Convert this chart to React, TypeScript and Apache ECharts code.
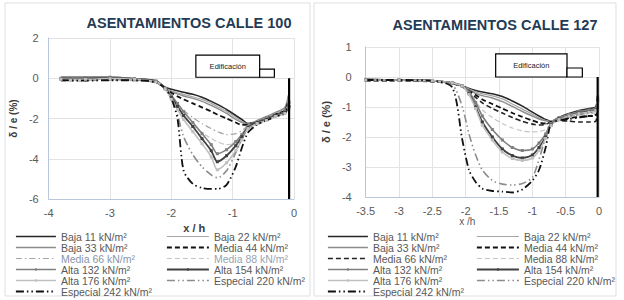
import React, { useEffect, useRef } from "react";
import * as echarts from "echarts";

const FONT = '"Liberation Sans", Arial, sans-serif';

// ---------- names ----------
const SERIES_NAMES = [
  "Baja 11 kN/m²",
  "Baja 22 kN/m²",
  "Baja 33 kN/m²",
  "Media 44 kN/m²",
  "Media 66 kN/m²",
  "Media 88 kN/m²",
  "Alta 132 kN/m²",
  "Alta 154 kN/m²",
  "Alta 176 kN/m²",
  "Especial 220 kN/m²",
  "Especial 242 kN/m²",
];
const LEGEND_COL1 = ["Baja 11 kN/m²", "Baja 33 kN/m²", "Media 66 kN/m²", "Alta 132 kN/m²", "Alta 176 kN/m²", "Especial 242 kN/m²"];
const LEGEND_COL2 = ["Baja 22 kN/m²", "Media 44 kN/m²", "Media 88 kN/m²", "Alta 154 kN/m²", "Especial 220 kN/m²"];

// ---------- Calle 100 (left) ----------
const X_100 = [-3.8, -3.4, -3.0, -2.6, -2.25, -2.1, -2.0, -1.9, -1.8, -1.65, -1.5, -1.35, -1.25, -1.1, -0.95, -0.85, -0.75, -0.6, -0.45, -0.3, -0.15, -0.08];
const baja11_100 = [0.05, 0.05, 0.05, -0.02, -0.12, -0.45, -0.55, -0.62, -0.7, -0.8, -0.95, -1.15, -1.3, -1.55, -1.85, -2.05, -2.25, -2.15, -2.0, -1.8, -1.6, -0.75];
const baja22_100 = [0.0, 0.02, 0.05, -0.02, -0.15, -0.5, -0.62, -0.72, -0.8, -0.92, -1.05, -1.25, -1.4, -1.65, -1.95, -2.15, -2.28, -2.15, -1.95, -1.75, -1.5, -0.9];
const baja33_100 = [-0.05, -0.02, 0.0, -0.05, -0.15, -0.52, -0.66, -0.78, -0.88, -1.0, -1.15, -1.35, -1.5, -1.75, -2.05, -2.2, -2.3, -2.1, -1.9, -1.7, -1.45, -0.7];
const media44_100 = [-0.1, -0.1, -0.08, -0.1, -0.2, -0.5, -0.72, -0.9, -1.05, -1.25, -1.45, -1.65, -1.8, -2.0, -2.2, -2.32, -2.3, -2.2, -2.0, -1.8, -1.6, -1.0];
const media66_100 = [-0.1, -0.1, -0.1, -0.12, -0.2, -0.5, -0.9, -1.3, -1.6, -1.95, -2.25, -2.5, -2.65, -2.8, -2.75, -2.6, -2.35, -2.2, -2.05, -1.85, -1.65, -1.1];
const media88_100 = [-0.12, -0.1, -0.1, -0.12, -0.2, -0.5, -1.0, -1.5, -1.9, -2.35, -2.7, -3.0, -3.15, -3.3, -3.2, -2.9, -2.45, -2.25, -2.05, -1.9, -1.7, -1.2];
const alta132_100 = [0.0, 0.02, 0.05, -0.02, -0.15, -0.5, -0.85, -1.25, -1.65, -2.2, -2.75, -3.3, -3.75, -3.55, -3.15, -2.8, -2.4, -2.2, -2.0, -1.85, -1.65, -1.2];
const alta154_100 = [-0.05, -0.02, 0.0, -0.05, -0.15, -0.52, -0.95, -1.4, -1.85, -2.4, -3.0, -3.6, -4.15, -3.85, -3.35, -2.9, -2.45, -2.2, -2.05, -1.85, -1.7, -1.4];
const alta176_100 = [-0.05, -0.05, -0.02, -0.05, -0.18, -0.52, -1.05, -1.55, -2.05, -2.65, -3.25, -3.9, -4.55, -4.2, -3.6, -3.05, -2.5, -2.25, -2.1, -1.9, -1.75, -1.5];
const especial220_100 = [-0.1, -0.1, -0.08, -0.1, -0.2, -0.5, -0.9, -1.8, -2.9, -3.8, -4.4, -4.8, -4.95, -4.6, -3.7, -3.0, -2.5, -2.3, -2.1, -1.9, -1.7, -1.3];
const especial242_100 = [-0.1, -0.12, -0.1, -0.1, -0.2, -0.5, -1.0, -2.0, -4.6, -5.25, -5.45, -5.5, -5.5, -5.3, -4.4, -3.45, -2.7, -2.3, -2.1, -1.9, -1.75, -1.3];
const WALL_100 = [[-0.08, 0], [-0.08, -6]];
const BUILDING_100 = [[-1.6, 0.05], [-0.56, 1.15]];
const ANNEX_100 = [[-0.56, 0.05], [-0.32, 0.45]];

// ---------- Calle 127 (right) ----------
const X_127 = [-3.5, -3.0, -2.5, -2.2, -2.05, -1.95, -1.85, -1.75, -1.6, -1.45, -1.3, -1.15, -1.0, -0.9, -0.8, -0.72, -0.6, -0.45, -0.3, -0.15, -0.05, -0.02];
const baja11_127 = [-0.08, -0.1, -0.12, -0.2, -0.3, -0.38, -0.45, -0.5, -0.56, -0.65, -0.8, -0.97, -1.17, -1.3, -1.42, -1.48, -1.35, -1.22, -1.12, -1.05, -1.0, -0.6];
const baja22_127 = [-0.08, -0.1, -0.12, -0.2, -0.3, -0.4, -0.5, -0.56, -0.63, -0.73, -0.9, -1.07, -1.24, -1.36, -1.45, -1.48, -1.38, -1.28, -1.2, -1.12, -1.05, -0.7];
const baja33_127 = [-0.1, -0.1, -0.12, -0.2, -0.3, -0.42, -0.55, -0.62, -0.7, -0.82, -0.98, -1.15, -1.3, -1.4, -1.46, -1.48, -1.4, -1.3, -1.22, -1.17, -1.12, -0.8];
const media44_127 = [-0.12, -0.12, -0.15, -0.22, -0.32, -0.45, -0.6, -0.75, -0.9, -1.05, -1.2, -1.33, -1.45, -1.52, -1.55, -1.5, -1.42, -1.37, -1.33, -1.3, -1.3, -0.9];
const media66_127 = [-0.12, -0.12, -0.15, -0.22, -0.32, -0.48, -0.68, -0.86, -1.05, -1.2, -1.35, -1.48, -1.57, -1.6, -1.58, -1.5, -1.45, -1.47, -1.5, -1.5, -1.48, -1.0];
const media88_127 = [-0.12, -0.12, -0.15, -0.22, -0.32, -0.52, -0.82, -1.1, -1.35, -1.55, -1.7, -1.8, -1.83, -1.82, -1.75, -1.55, -1.42, -1.32, -1.26, -1.22, -1.2, -0.8];
const alta132_127 = [-0.08, -0.1, -0.12, -0.2, -0.3, -0.5, -0.85, -1.3, -1.75, -2.1, -2.35, -2.45, -2.4, -2.2, -1.9, -1.55, -1.35, -1.25, -1.15, -1.1, -1.05, -0.7];
const alta154_127 = [-0.1, -0.1, -0.12, -0.2, -0.3, -0.55, -1.0, -1.5, -2.0, -2.4, -2.62, -2.7, -2.6, -2.35, -2.0, -1.6, -1.4, -1.3, -1.2, -1.15, -1.1, -0.8];
const alta176_127 = [-0.1, -0.1, -0.12, -0.2, -0.3, -0.58, -1.05, -1.6, -2.1, -2.5, -2.72, -2.78, -2.7, -2.45, -2.05, -1.62, -1.42, -1.3, -1.22, -1.17, -1.12, -0.85];
const especial220_127 = [-0.1, -0.1, -0.12, -0.25, -1.0, -1.9, -2.6, -3.1, -3.45, -3.57, -3.6, -3.55, -3.35, -2.75, -2.0, -1.5, -1.4, -1.3, -1.25, -1.2, -1.15, -0.9];
const especial242_127 = [-0.1, -0.1, -0.12, -0.35, -2.1, -3.1, -3.5, -3.72, -3.8, -3.82, -3.85, -3.75, -3.45, -3.1, -2.35, -1.55, -1.45, -1.4, -1.35, -1.3, -1.25, -1.0];
const WALL_127 = [[-0.02, 0], [-0.02, -4]];
const BUILDING_127 = [[-1.55, 0], [-0.48, 0.77]];
const ANNEX_127 = [[-0.48, 0], [-0.25, 0.3]];

// ---------- styles ----------
const DASH = [5, 3];
const DASH_DOT = [6, 3, 1.5, 3];
const LDASH_DOT_DOT = [8, 3, 1.5, 3, 1.5, 3];
const MARKER = "path://M0,0M10,10M3.5,3.5h3v3h-3z";

type Sty = { color: string; width: number; type?: any; marker?: boolean; text?: string };
const STYLES_100: Sty[] = [
  { color: "#262626", width: 1.6 },
  { color: "#a6a6a6", width: 1.2 },
  { color: "#8c8c8c", width: 1.4 },
  { color: "#111111", width: 1.8, type: DASH },
  { color: "#a6a6a6", width: 1.2, type: DASH_DOT, text: "#8796ab" },
  { color: "#c4c4c4", width: 1.2, type: DASH, text: "#97a3b3" },
  { color: "#7f7f7f", width: 1.6, marker: true },
  { color: "#404040", width: 1.8, marker: true },
  { color: "#bfbfbf", width: 1.6, marker: true },
  { color: "#8c8c8c", width: 1.6, type: LDASH_DOT_DOT },
  { color: "#111111", width: 1.8, type: LDASH_DOT_DOT },
];
const STYLES_127: Sty[] = STYLES_100.map((s, i) =>
  i === 4 ? { color: "#222222", width: 1.6, type: DASH } : i === 5 ? { ...s, text: undefined } : s
);

type PanelCfg = {
  title: string;
  titleX: number;
  titleY: number;
  xs: number[];
  values: number[][];
  styles: Sty[];
  xMin: number;
  xMax: number;
  xInterval: number;
  yMin: number;
  yMax: number;
  yInterval: number;
  wall: number[][];
  building: number[][];
  annex: number[][];
  grid: { left: number; top: number; width: number; height: number };
  yLabelMargin: number;
  yNameGap: number;
  yNameSize: number;
  xName: string;
  xNameBold: boolean;
  xNameSize: number;
  xNameGap: number;
  xNamePadding: number[];
  border: number[];
  legendLeft1: number;
  legendLeft2: number;
};

const PANEL_100: PanelCfg = {
  title: "ASENTAMIENTOS CALLE 100",
  titleX: 189,
  titleY: 15,
  xs: X_100,
  values: [baja11_100, baja22_100, baja33_100, media44_100, media66_100, media88_100, alta132_100, alta154_100, alta176_100, especial220_100, especial242_100],
  styles: STYLES_100,
  xMin: -4,
  xMax: 0,
  xInterval: 1,
  yMin: -6,
  yMax: 2,
  yInterval: 2,
  wall: WALL_100,
  building: BUILDING_100,
  annex: ANNEX_100,
  grid: { left: 42, top: 38, width: 252, height: 161 },
  yLabelMargin: 10,
  yNameGap: 15,
  yNameSize: 10,
  xName: "x / h",
  xNameBold: true,
  xNameSize: 11,
  xNameGap: 14,
  xNamePadding: [0, 0, 0, 46],
  border: [5, 3, 305, 293],
  legendLeft1: 15,
  legendLeft2: 166,
};

const PANEL_127: PanelCfg = {
  title: "ASENTAMIENTOS CALLE 127",
  titleX: 183,
  titleY: 17,
  xs: X_127,
  values: [baja11_127, baja22_127, baja33_127, media44_127, media66_127, media88_127, alta132_127, alta154_127, alta176_127, especial220_127, especial242_127],
  styles: STYLES_127,
  xMin: -3.5,
  xMax: 0,
  xInterval: 0.5,
  yMin: -4,
  yMax: 1,
  yInterval: 1,
  wall: WALL_127,
  building: BUILDING_127,
  annex: ANNEX_127,
  grid: { left: 48, top: 47, width: 239, height: 150 },
  yLabelMargin: 14,
  yNameGap: 27,
  yNameSize: 11,
  xName: "x /h",
  xNameBold: false,
  xNameSize: 10,
  xNameGap: 18,
  xNamePadding: [0, 30, 0, 0],
  border: [2, 3, 302, 293],
  legendLeft1: 15,
  legendLeft2: 164,
};

function buildOption(p: PanelCfg) {
  const series: any[] = SERIES_NAMES.map((name, i) => {
    const s = p.styles[i];
    return {
      name,
      type: "line",
      data: p.xs.map((x, k) => [x, p.values[i][k]]),
      smooth: 0.25,
      showSymbol: !!s.marker,
      symbol: s.marker ? MARKER : "none",
      symbolSize: 10,
      itemStyle: { color: s.color },
      lineStyle: { color: s.color, width: s.width, type: s.type || "solid" },
      emphasis: { disabled: true },
      silent: true,
      z: 3,
    };
  });
  series.push({
    name: "muro",
    type: "line",
    data: p.wall,
    showSymbol: false,
    symbol: "none",
    lineStyle: { color: "#000", width: 2.2 },
    silent: true,
    z: 4,
    markArea: {
      silent: true,
      itemStyle: { color: "#ffffff", borderColor: "#000000", borderWidth: 1.2, opacity: 1 },
      label: { show: false },
      data: [
        [
          {
            name: "Edificación",
            xAxis: p.building[0][0],
            yAxis: p.building[0][1],
            label: { show: true, position: "inside", fontSize: 7.5, color: "#222", fontFamily: FONT },
          },
          { xAxis: p.building[1][0], yAxis: p.building[1][1] },
        ],
        [
          { name: "", xAxis: p.annex[0][0], yAxis: p.annex[0][1] },
          { xAxis: p.annex[1][0], yAxis: p.annex[1][1] },
        ],
      ],
    },
  });

  const legendItem = (name: string) => {
    const i = SERIES_NAMES.indexOf(name);
    const s = p.styles[i];
    return {
      name,
      textStyle: { color: s.text || "#595959" },
      lineStyle: { width: s.width },
      itemStyle: s.marker ? { color: s.color, borderWidth: 0 } : { color: "transparent", opacity: 0, borderWidth: 0 },
    };
  };
  const legendBase = {
    orient: "vertical",
    top: 231,
    padding: 0,
    itemHeight: 9,
    itemGap: 0,
    selectedMode: false,
    textStyle: { fontSize: 10.5, lineHeight: 9, fontFamily: FONT, color: "#595959" },
  };

  return {
    animation: false,
    backgroundColor: "#ffffff",
    title: {
      text: p.title,
      left: p.titleX,
      top: p.titleY,
      textAlign: "center",
      padding: 0,
      textStyle: { fontSize: 14.5, fontWeight: "bold", color: "#243b55", fontFamily: FONT },
    },
    graphic: [
      {
        type: "rect",
        shape: { x: p.border[0], y: p.border[1], width: p.border[2], height: p.border[3] },
        style: { fill: "none", stroke: "#dcdfe3", lineWidth: 1 },
        silent: true,
        z: -1,
      },
    ],
    legend: [
      { ...legendBase, left: p.legendLeft1, itemWidth: 40, data: LEGEND_COL1.map(legendItem) },
      { ...legendBase, left: p.legendLeft2, itemWidth: 42, data: LEGEND_COL2.map(legendItem) },
    ],
    grid: { ...p.grid, containLabel: false },
    xAxis: {
      type: "value",
      min: p.xMin,
      max: p.xMax,
      interval: p.xInterval,
      name: p.xName,
      nameLocation: "middle",
      nameGap: p.xNameGap,
      nameTextStyle: {
        fontSize: p.xNameSize,
        fontWeight: p.xNameBold ? "bold" : "normal",
        color: p.xNameBold ? "#3a3a3a" : "#595959",
        fontFamily: FONT,
        verticalAlign: "top",
        padding: p.xNamePadding,
      },
      axisLine: { onZero: false, lineStyle: { color: "#b8c7d9", width: 1 } },
      axisTick: { show: false },
      axisLabel: { fontSize: 11, color: "#595959", margin: 8, fontFamily: FONT },
      splitLine: { lineStyle: { color: "#e3e3e3", width: 1 } },
    },
    yAxis: {
      type: "value",
      min: p.yMin,
      max: p.yMax,
      interval: p.yInterval,
      name: "δ / e (%)",
      nameLocation: "middle",
      nameGap: p.yNameGap,
      nameTextStyle: { fontSize: p.yNameSize, fontWeight: "bold", color: "#3a3a3a", fontFamily: FONT },
      axisLine: { show: true, onZero: false, lineStyle: { color: "#b8c7d9", width: 1 } },
      axisTick: { show: false },
      axisLabel: { fontSize: 11, color: "#595959", margin: p.yLabelMargin, fontFamily: FONT },
      splitLine: { lineStyle: { color: "#e3e3e3", width: 1 } },
    },
    series,
  };
}

function Panel({ cfg, left }: { cfg: PanelCfg; left: number }) {
  const ref = useRef<HTMLDivElement>(null);
  useEffect(() => {
    if (!ref.current) return;
    const chart = echarts.init(ref.current, undefined, { renderer: "svg" });
    chart.setOption(buildOption(cfg) as any);
    return () => chart.dispose();
  }, [cfg]);
  return <div ref={ref} style={{ position: "absolute", left, top: 0, width: 312, height: 300 }} />;
}

export default function App() {
  return (
    <div style={{ position: "absolute", left: 0, top: 0, width: 624, height: 300, background: "#ffffff", overflow: "hidden" }}>
      <Panel cfg={PANEL_100} left={0} />
      <Panel cfg={PANEL_127} left={312} />
    </div>
  );
}
